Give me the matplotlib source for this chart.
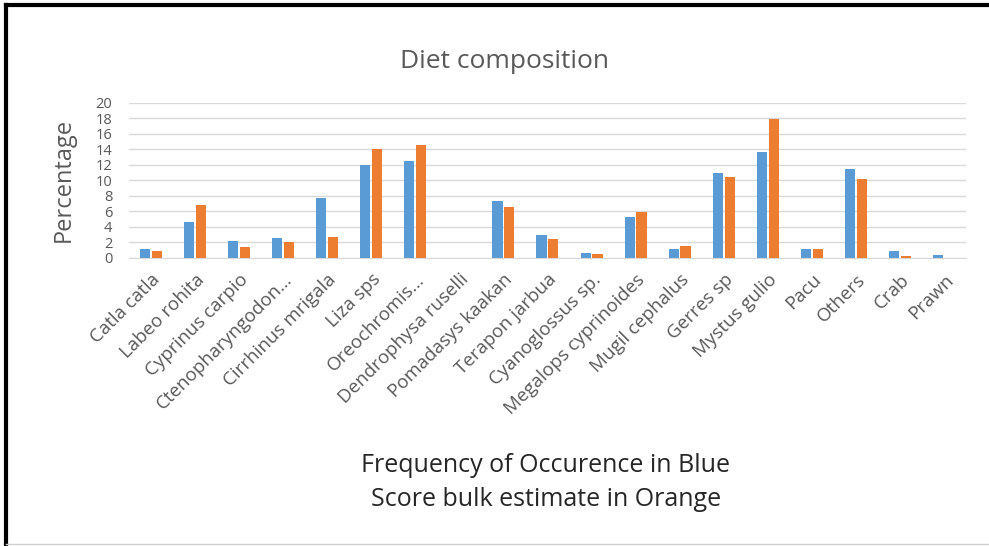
import matplotlib
matplotlib.use("Agg")
import matplotlib.pyplot as plt
import numpy as np
from matplotlib.lines import Line2D

# ---------------------------------------------------------------------------
# Data
# ---------------------------------------------------------------------------
species = ["Catla catla", "Labeo rohita", "Cyprinus carpio", "Ctenopharyngodon…",
           "Cirrhinus mrigala", "Liza sps", "Oreochromis…", "Dendrophysa ruselli",
           "Pomadasys kaakan", "Terapon jarbua", "Cyanoglossus sp.",
           "Megalops cyprinoides", "Mugil cephalus", "Gerres sp", "Mystus gulio",
           "Pacu", "Others", "Crab", "Prawn"]
freq_occurrence = [1.2, 4.6, 2.2, 2.6, 7.7, 12.0, 12.5, 0.0, 7.4, 2.9, 0.6,
                   5.3, 1.2, 11.0, 13.6, 1.2, 11.5, 0.9, 0.35]
bulk_estimate = [0.9, 6.8, 1.4, 2.1, 2.7, 14.0, 14.6, 0.0, 6.6, 2.4, 0.45,
                 5.9, 1.5, 10.4, 17.9, 1.2, 10.2, 0.3, 0.0]
y_ticks = list(range(0, 21, 2))

BLUE = "#5B9BD5"
ORANGE = "#ED7D31"
TEXT = "#595959"

plt.rcParams["font.family"] = ["Open Sans", "DejaVu Sans"]

fig = plt.figure(figsize=(9.89, 5.46), dpi=100)
ax = fig.add_axes([0.1304, 0.5275, 0.8463, 0.2845])

x = np.arange(len(species))
w = 0.23
ax.bar(x - w / 2 - 0.02, freq_occurrence, width=w, color=BLUE, zorder=3)
ax.bar(x + w / 2 + 0.02, bulk_estimate, width=w, color=ORANGE, zorder=3)

ax.set_xlim(-0.5, len(species) - 0.5)
ax.set_ylim(0, 20)
ax.set_yticks(y_ticks)
ax.set_yticklabels([str(t) for t in y_ticks], fontsize=10.5, color=TEXT)
ax.yaxis.grid(True, color="#d9d9d9", lw=1, zorder=0)
ax.tick_params(axis="y", length=0, pad=12)
ax.tick_params(axis="x", length=0, pad=9)

ax.set_xticks(x)
ax.set_xticklabels(species, rotation=45, ha="right", rotation_mode="anchor",
                   fontsize=13.5, color=TEXT)

for s in ["top", "right", "left"]:
    ax.spines[s].set_visible(False)
ax.spines["bottom"].set_color("#d9d9d9")

ax.set_ylabel("Percentage", fontsize=17, color=TEXT, labelpad=14)

fig.text(0.51, 0.887, "Diet composition", ha="center", va="center",
         fontsize=19, color=TEXT)
fig.text(0.552, 0.116, "Frequency of Occurence in Blue\nScore bulk estimate in Orange",
         ha="center", va="center", fontsize=18, color="#262626", linespacing=1.45)

# image frame: thick dark edge on the left and top, faint one at bottom
fig.add_artist(Line2D([0.006, 0.006], [0, 0.99], transform=fig.transFigure,
                      color="black", lw=3))
fig.add_artist(Line2D([0.006, 1.0], [0.99, 0.99], transform=fig.transFigure,
                      color="black", lw=3))
fig.add_artist(Line2D([0.006, 1.0], [0.004, 0.004], transform=fig.transFigure,
                      color="#d0d0d0", lw=1))

fig.savefig("out.png", dpi=100)
